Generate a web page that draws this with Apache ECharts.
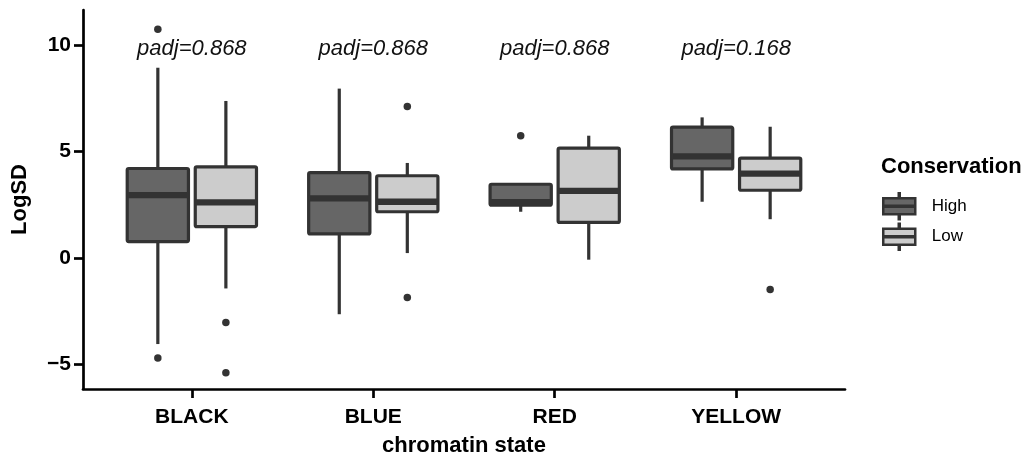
<!DOCTYPE html>
<html>
<head>
<meta charset="utf-8">
<script src="https://cdn.jsdelivr.net/npm/echarts@6/dist/echarts.min.js"></script>
<style>
html,body{margin:0;padding:0;background:#fff;}
#chart{width:1027px;height:462px;}
</style>
</head>
<body>
<div id="chart"></div>
<script>
// ---- data ----
const categories = ['BLACK', 'BLUE', 'RED', 'YELLOW'];
// [lower whisker, Q1, median, Q3, upper whisker]
const highStats = [
  [-4.04, 0.77, 2.95, 4.20, 8.93],
  [-2.64, 1.13, 2.80, 4.01, 7.95],
  [2.17, 2.48, 2.62, 3.46, 3.46],
  [2.64, 4.18, 4.77, 6.14, 6.60]
];
const lowStats = [
  [-1.43, 1.47, 2.61, 4.28, 7.37],
  [0.23, 2.17, 2.64, 3.86, 4.46],
  [-0.08, 1.67, 3.15, 5.16, 5.74],
  [1.82, 3.18, 3.96, 4.69, 6.16]
];
const highOutliers = [[10.74, -4.70], [], [5.74], []];
const lowOutliers = [[-3.03, -5.39], [7.11, -1.86], [], [-1.48]];
const padjLabels = ['padj=0.868', 'padj=0.868', 'padj=0.868', 'padj=0.168'];
const groupNames = ['High', 'Low'];
const yTicks = [-5, 0, 5, 10];

// ---- styling / layout ----
const FONT = 'Liberation Sans, Arial, Helvetica, sans-serif';
const STROKE = '#333333';
const FILLS = ['#666666', '#cccccc'];
const DODGE = 0.1875;
const BOX_W = 0.3375;
const LABEL_Y = 9.83;

function boxRender(offset, fill) {
  return function (params, api) {
    const x = api.value(0) + offset;
    const wl = api.coord([x, api.value(1)]);
    const q1 = api.coord([x, api.value(2)]);
    const md = api.coord([x, api.value(3)]);
    const q3 = api.coord([x, api.value(4)]);
    const wh = api.coord([x, api.value(5)]);
    const half = api.size([BOX_W, 0])[0] / 2;
    const cx = q1[0];
    return {
      type: 'group',
      children: [
        { type: 'line', shape: { x1: cx, y1: q3[1], x2: cx, y2: wh[1] }, style: { stroke: STROKE, lineWidth: 3.2 } },
        { type: 'line', shape: { x1: cx, y1: q1[1], x2: cx, y2: wl[1] }, style: { stroke: STROKE, lineWidth: 3.2 } },
        { type: 'rect', shape: { x: cx - half, y: q3[1], width: 2 * half, height: q1[1] - q3[1], r: 1.5 },
          style: { fill: fill, stroke: STROKE, lineWidth: 3.2, lineJoin: 'round' } },
        { type: 'line', shape: { x1: cx - half, y1: md[1], x2: cx + half, y2: md[1] }, style: { stroke: STROKE, lineWidth: 6.4 } }
      ]
    };
  };
}

function boxData(stats) {
  return stats.map((s, i) => [i + 1].concat(s));
}
function outlierData(outs, offset) {
  const arr = [];
  outs.forEach((vals, i) => vals.forEach(v => arr.push([i + 1 + offset, v])));
  return arr;
}

const legendIcon = 'path://M1.5,5 L33.5,5 L33.5,21 L1.5,21 Z M1.5,12.5 L33.5,12.5 L33.5,13.5 L1.5,13.5 Z M17,0 L18,0 L18,5 L17,5 Z M17,21 L18,21 L18,26 L17,26 Z';

const chart = echarts.init(document.getElementById('chart'), null, { renderer: 'canvas' });
const option = {
  animation: false,
  backgroundColor: '#ffffff',
  title: [{
    text: 'Conservation',
    left: 881, top: 156, padding: 0,
    textStyle: { fontFamily: FONT, fontSize: 22, fontWeight: 'bold', color: '#000' }
  }],
  legend: {
    orient: 'vertical',
    left: 882, top: 192, padding: 0,
    itemWidth: 35, itemHeight: 26, itemGap: 2,
    textStyle: { fontFamily: FONT, fontSize: 17, color: '#000', padding: [0, 0, 0, 10] },
    data: groupNames.map((n, k) => ({
      name: n, icon: legendIcon,
      itemStyle: { color: FILLS[k], borderColor: STROKE, borderWidth: 2.5 }
    }))
  },
  grid: { left: 83, right: 182, top: 10, bottom: 70, containLabel: false },
  xAxis: {
    type: 'value', min: 0.4, max: 4.6,
    name: 'chromatin state', nameLocation: 'middle', nameGap: 46,
    nameTextStyle: { fontFamily: FONT, fontSize: 22, fontWeight: 'bold', color: '#000' },
    axisLine: { onZero: false, lineStyle: { color: '#000', width: 2.7 } },
    axisTick: { show: true, customValues: [1, 2, 3, 4], length: 9, lineStyle: { color: '#000', width: 2.7 } },
    axisLabel: {
      customValues: [1, 2, 3, 4], margin: 18,
      fontFamily: FONT, fontSize: 21, fontWeight: 'bold', color: '#000',
      formatter: v => categories[Math.round(v) - 1]
    },
    splitLine: { show: false }
  },
  yAxis: {
    type: 'value', min: -6.15, max: 11.64,
    name: 'LogSD', nameLocation: 'middle', nameGap: 52, nameRotate: 90,
    nameTextStyle: { fontFamily: FONT, fontSize: 22, fontWeight: 'bold', color: '#000' },
    axisLine: { show: true, onZero: false, lineStyle: { color: '#000', width: 2.7 } },
    axisTick: { show: true, customValues: yTicks, length: 9, lineStyle: { color: '#000', width: 2.7 } },
    axisLabel: {
      customValues: yTicks, margin: 12,
      fontFamily: FONT, fontSize: 21, fontWeight: 'bold', color: '#000',
      formatter: v => (v < 0 ? '\u2212' + Math.abs(v) : String(v))
    },
    splitLine: { show: false }
  },
  series: [
    {
      name: 'High', type: 'custom', renderItem: boxRender(-DODGE, FILLS[0]),
      itemStyle: { color: FILLS[0], borderColor: STROKE },
      encode: { x: 0, y: [1, 2, 3, 4, 5] },
      data: boxData(highStats), z: 2
    },
    {
      name: 'Low', type: 'custom', renderItem: boxRender(DODGE, FILLS[1]),
      itemStyle: { color: FILLS[1], borderColor: STROKE },
      encode: { x: 0, y: [1, 2, 3, 4, 5] },
      data: boxData(lowStats), z: 2
    },
    {
      name: 'outHigh', type: 'scatter', symbol: 'circle', symbolSize: 7.5,
      itemStyle: { color: STROKE, opacity: 1 }, data: outlierData(highOutliers, -DODGE), z: 3
    },
    {
      name: 'outLow', type: 'scatter', symbol: 'circle', symbolSize: 7.5,
      itemStyle: { color: STROKE, opacity: 1 }, data: outlierData(lowOutliers, DODGE), z: 3
    },
    {
      name: 'padj', type: 'custom',
      data: padjLabels.map((t, i) => [i + 1, LABEL_Y]),
      renderItem: function (params, api) {
        const p = api.coord([api.value(0), api.value(1)]);
        return {
          type: 'text', x: p[0], y: p[1],
          style: {
            text: padjLabels[params.dataIndex], fill: '#111',
            font: 'italic 22px ' + FONT, align: 'center', verticalAlign: 'middle'
          }
        };
      },
      z: 4
    }
  ]
};
chart.setOption(option);
</script>
</body>
</html>
